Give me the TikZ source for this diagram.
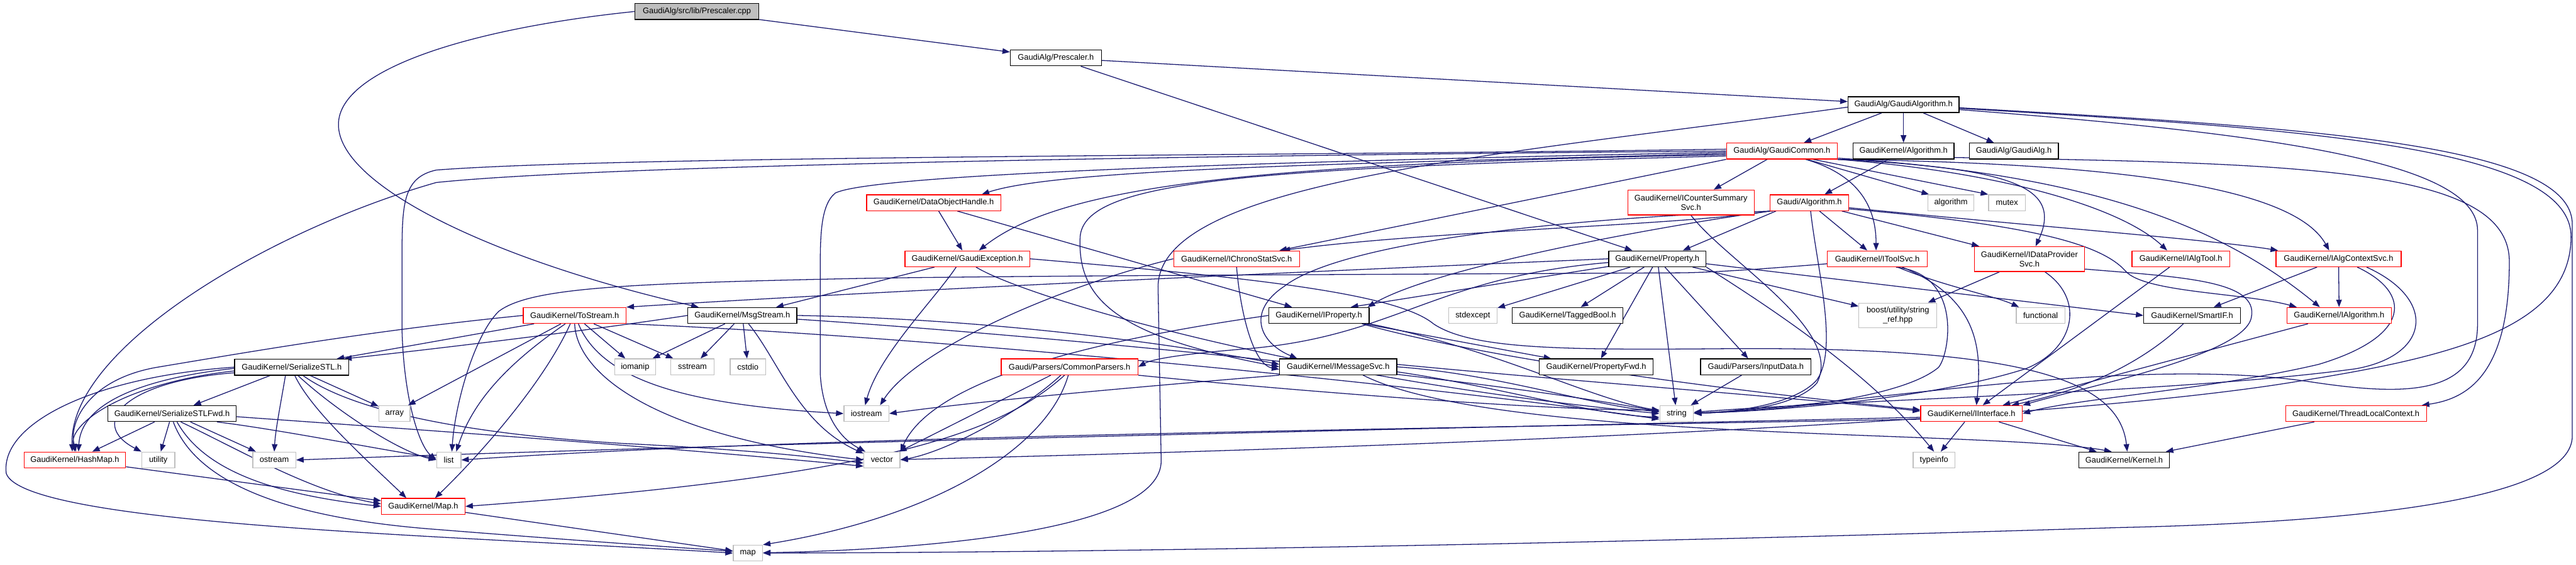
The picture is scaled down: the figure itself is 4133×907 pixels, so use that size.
\documentclass[tikz,border=0pt]{standalone}
\usepackage{fontspec}
\setmainfont{Liberation Sans}
\usetikzlibrary{arrows.meta}
\definecolor{edgec}{HTML}{191970}
\definecolor{grayb}{HTML}{BFBFBF}
\definecolor{redb}{HTML}{FF0000}
\newcommand{\nfont}{\fontsize{13}{15}\selectfont}
\pgfdeclarelayer{bgzero}
\pgfdeclarelayer{background}
\pgfsetlayers{bgzero,background,main}
\begin{document}
\begin{tikzpicture}[x=1pt,y=-1pt,
  nd/.style={draw=black,line width=1.3pt,fill=white,inner sep=0pt,minimum height=25.5pt,font=\nfont,align=center},
  rd/.style={nd,draw=redb},
  gy/.style={nd,draw=grayb},
  edg/.style={draw=edgec,line width=1.3pt,-{Triangle[length=12pt,width=9pt]}},
]
\begin{pgfonlayer}{bgzero}
\fill[white] (0,0) rectangle (4133,907);
\end{pgfonlayer}
\useasboundingbox (0,0) rectangle (4133,907);

% ---------------- nodes ----------------
\node[nd,fill=grayb,minimum width=199pt] (cpp) at (1118,18.5) {GaudiAlg/src/lib/Prescaler.cpp};
\node[nd,minimum width=146pt] (presh) at (1694,93) {GaudiAlg/Prescaler.h};
\node[nd,minimum width=178pt] (galgo) at (3054,168) {GaudiAlg/GaudiAlgorithm.h};
\node[rd,minimum width=178pt] (gcommon) at (2859,242.5) {GaudiAlg/GaudiCommon.h};
\node[nd,minimum width=162pt] (gkalgo) at (3054,242.5) {GaudiKernel/Algorithm.h};
\node[nd,minimum width=143pt] (galg) at (3231,242.5) {GaudiAlg/GaudiAlg.h};
\node[rd,minimum width=215pt] (doh) at (1498,325.5) {GaudiKernel/DataObjectHandle.h};
\node[rd,minimum width=203pt,minimum height=40pt] (ics) at (2713,325) {GaudiKernel/ICounterSummary\\Svc.h};
\node[rd,minimum width=126pt] (galgorithm) at (2903,325.5) {Gaudi/Algorithm.h};
\node[gy,minimum width=74pt] (algorithm) at (3130,325.5) {algorithm};
\node[gy,minimum width=59pt] (mutex) at (3220,325.5) {mutex};
\node[rd,minimum width=200pt] (gexc) at (1552,415.5) {GaudiKernel/GaudiException.h};
\node[rd,minimum width=202pt] (ichrono) at (1984,415.5) {GaudiKernel/IChronoStatSvc.h};
\node[nd,minimum width=156pt] (prop) at (2659,415.5) {GaudiKernel/Property.h};
\node[rd,minimum width=160pt] (itool) at (3012,415.5) {GaudiKernel/IToolSvc.h};
\node[rd,minimum width=177pt,minimum height=40pt] (idp) at (3256,416) {GaudiKernel/IDataProvider\\Svc.h};
\node[rd,minimum width=157pt] (ialgtool) at (3499,415.5) {GaudiKernel/IAlgTool.h};
\node[rd,minimum width=201pt] (iactx) at (3752,415.5) {GaudiKernel/IAlgContextSvc.h};
\node[rd,minimum width=165pt] (tostream) at (922,506.5) {GaudiKernel/ToStream.h};
\node[nd,minimum width=175pt] (msgs) at (1191,506.5) {GaudiKernel/MsgStream.h};
\node[nd,minimum width=161pt] (iprop) at (2116,506.5) {GaudiKernel/IProperty.h};
\node[gy,minimum width=78pt] (stdexcept) at (2363,506.5) {stdexcept};
\node[nd,minimum width=177pt] (tagged) at (2515,506.5) {GaudiKernel/TaggedBool.h};
\node[gy,minimum width=125pt,minimum height=40pt] (boost) at (3045,506.5) {boost/utility/string\\\_ref.hpp};
\node[gy,minimum width=78pt] (functional) at (3274,506.5) {functional};
\node[nd,minimum width=155pt] (smartif) at (3517,506.5) {GaudiKernel/SmartIF.h};
\node[rd,minimum width=167pt] (ialgo) at (3753,506.5) {GaudiKernel/IAlgorithm.h};
\node[nd,minimum width=183pt] (sstl) at (468,589.5) {GaudiKernel/SerializeSTL.h};
\node[gy,minimum width=66pt] (iomanip) at (1019,589) {iomanip};
\node[gy,minimum width=70pt] (sstream) at (1111,589) {sstream};
\node[gy,minimum width=57pt] (cstdio) at (1200,589) {cstdio};
\node[nd,minimum width=188pt] (imsg) at (2147,589) {GaudiKernel/IMessageSvc.h};
\node[nd,minimum width=183pt] (propfwd) at (2561,589) {GaudiKernel/PropertyFwd.h};
\node[nd,minimum width=177pt] (inputdata) at (2817,589) {Gaudi/Parsers/InputData.h};
\node[rd,minimum width=219pt] (cparsers) at (1716,589) {Gaudi/Parsers/CommonParsers.h};
\node[gy,minimum width=50pt] (array) at (633,664) {array};
\node[nd,minimum width=206pt] (sstlfwd) at (276,664) {GaudiKernel/SerializeSTLFwd.h};
\node[gy,minimum width=72pt] (iostream) at (1390,664) {iostream};
\node[gy,minimum width=54pt] (string) at (2690,664) {string};
\node[rd,minimum width=163pt] (iinterface) at (3163,664) {GaudiKernel/IInterface.h};
\node[rd,minimum width=226pt] (tlc) at (3780,664) {GaudiKernel/ThreadLocalContext.h};
\node[rd,minimum width=163pt] (hashmap) at (120,738.5) {GaudiKernel/HashMap.h};
\node[gy,minimum width=53pt] (utility) at (254,738.5) {utility};
\node[gy,minimum width=69pt] (ostream) at (440,738.5) {ostream};
\node[gy,minimum width=39pt] (list) at (720,738.5) {list};
\node[gy,minimum width=58pt] (vector) at (1415,738.5) {vector};
\node[gy,minimum width=67pt] (typeinfo) at (3103,738.5) {typeinfo};
\node[nd,minimum width=145pt] (kernel) at (3408,738.5) {GaudiKernel/Kernel.h};
\node[rd,minimum width=134pt] (maph) at (679,813) {GaudiKernel/Map.h};
\node[gy,minimum width=47pt] (map) at (1200,888) {map};

% ---------------- edges ----------------
\begin{pgfonlayer}{background}
% top
\draw[edg] (cpp) -- (presh);
\draw[edg] (cpp.west) .. controls (760,45) and (543,110) .. (543,200) .. controls (543,300) and (800,420) .. ([xshift=18pt]msgs.north west);
\draw[edg] (presh) -- (galgo);
\draw[edg] (presh) -- (prop);
\draw[edg] (galgo) -- (gcommon);
\draw[edg] (galgo) -- (gkalgo);
\draw[edg] (galgo) -- (galg);
% GaudiAlgorithm long routes
\draw[edg] ([yshift=-5pt]galgo.east) .. controls (3700,205) and (4127,230) .. (4127,360) -- (4127,700) .. controls (4127,800) and (3800,838) .. (3400,847) .. controls (2600,872) and (1800,887) .. (map);
\draw[edg] ([yshift=-8pt]galgo.east) .. controls (3650,215) and (3975,260) .. (3975,370) -- (3975,520) .. controls (3975,640) and (3850,635) .. (3700,612) .. controls (3400,570) and (2950,655) .. (string);
\draw[edg] ([yshift=-6pt]galgo.east) .. controls (3700,207) and (4125,235) .. (4125,380) .. controls (4125,520) and (3950,570) .. (3700,610) .. controls (3300,680) and (2200,720) .. (vector);
\draw[edg] ([yshift=-4pt]galgo.west) .. controls (2400,250) and (1860,290) .. (1858,460) -- (1863,740) .. controls (1863,850) and (1500,882) .. (map);
% GaudiKernel/Algorithm.h
\draw[edg] (gkalgo) -- (galgorithm);
\draw[edg] ([yshift=3pt]gkalgo.south east) .. controls (3700,262) and (4026,270) .. (4026,420) .. controls (4026,600) and (3960,640) .. ([xshift=-8pt]tlc.north east);
% GaudiCommon.h
\draw[edg] (gcommon.west) .. controls (2100,248) and (1000,262) .. (700,293) .. controls (430,370) and (110,560) .. ([xshift=-4pt]hashmap.north);
\draw[edg] ([yshift=3pt]gcommon.west) .. controls (2100,250) and (1000,250) .. (700,273) .. controls (645,285) and (645,330) .. (645,420) -- (645,530) .. controls (648,640) and (672,715) .. (list.west);
\draw[edg] ([yshift=-2pt]gcommon.west) .. controls (2000,260) and (1400,280) .. (1340,310) .. controls (1316,330) and (1316,380) .. (1316,440) -- (1316,600) .. controls (1320,670) and (1350,705) .. ([xshift=3pt]vector.north west);
\draw[edg] ([yshift=-4pt]gcommon.west) .. controls (2200,262) and (1700,270) .. ([xshift=-31pt]doh.north east);
\draw[edg] ([yshift=-6pt]gcommon.west) .. controls (2000,262) and (1700,300) .. ([xshift=-82pt]gexc.north east);
\draw[edg] ([yshift=-8pt]gcommon.west) .. controls (2000,270) and (1740,290) .. (1733,380) .. controls (1728,480) and (1790,540) .. (imsg.west);
\draw[edg] (gcommon.south west) -- ([xshift=-33pt]ichrono.north east);
\draw[edg] (gcommon) -- (ics);
\draw[edg] ([xshift=40pt]gcommon.south) -- ([xshift=-35pt]algorithm.north);
\draw[edg] ([xshift=50pt]gcommon.south) -- (mutex.north west);
\draw[edg] ([xshift=38pt]gcommon.south) .. controls (2980,280) and (3010,330) .. ([xshift=-2pt]itool.north);
\draw[edg] (gcommon.south east) .. controls (3230,270) and (3310,300) .. ([xshift=10pt]idp.north);
\draw[edg] (gcommon.south east) .. controls (3400,262) and (3680,300) .. ([xshift=-15pt]iactx.north);
\draw[edg] (gcommon.south east) .. controls (3200,275) and (3400,330) .. ([xshift=-22pt]ialgtool.north);
\draw[edg] ([yshift=2pt]gcommon.south east) .. controls (3350,280) and (3560,360) .. ([xshift=-31pt]ialgo.north);
% Gaudi/Algorithm.h
\draw[edg] (galgorithm) -- (itool);
\draw[edg] (galgorithm) -- (idp);
\draw[edg] ([xshift=2pt]galgorithm.south) .. controls (2915,430) and (2950,560) .. (2915,610) .. controls (2880,650) and (2780,662) .. (string);
\draw[edg] ([xshift=10pt]galgorithm.south west) -- ([xshift=41pt]prop.north);
\draw[edg] (galgorithm.south west) .. controls (2700,362) and (2300,370) .. ([xshift=-28pt]ichrono.north east);
\draw[edg] ([yshift=-8pt]galgorithm.east) .. controls (3250,362) and (3550,385) .. ([xshift=4pt]iactx.north west);
\draw[edg] ([yshift=-10pt]galgorithm.east) .. controls (3250,360) and (3370,390) .. (3410,435) .. controls (3440,470) and (3600,470) .. ([xshift=-68pt]ialgo.north);
\draw[edg] (galgorithm.south west) .. controls (2650,365) and (2300,430) .. ([xshift=-3pt]iprop.north east);
\draw[edg] ([xshift=5pt]galgorithm.south west) .. controls (2500,350) and (2150,390) .. (2060,460) .. controls (2000,500) and (2020,550) .. ([xshift=29pt]imsg.north west);
% Property.h
\draw[edg] (prop.west) .. controls (2000,440) and (1400,468) .. (tostream.north east);
\draw[edg] (prop) -- (stdexcept);
\draw[edg] (prop) -- (tagged);
\draw[edg] (prop) -- (propfwd);
\draw[edg] (prop) -- (string);
\draw[edg] (prop) -- (inputdata);
\draw[edg] (prop) -- (boost);
\draw[edg] (prop.south east) .. controls (2850,500) and (3000,600) .. (typeinfo.north);
\draw[edg] ([yshift=-6pt]prop.west) .. controls (2300,445) and (2240,540) .. (2000,560) .. controls (1900,568) and (1850,576) .. (cparsers.east);
\draw[edg] ([yshift=-8pt]prop.east) -- (smartif.west);
\draw[edg] (prop) -- ([xshift=51pt]iprop.north);
% ICounterSummarySvc.h
\draw[edg] (ics.south) .. controls (2770,420) and (2960,530) .. (2915,615) .. controls (2880,655) and (2780,662) .. (string);
% IToolSvc.h
\draw[edg] (itool) .. controls (3120,460) and (3200,475) .. ([xshift=5pt]functional.north west);
\draw[edg] ([xshift=30pt]itool.south) .. controls (3150,440) and (3128,570) .. (3110,590) .. controls (3050,640) and (2850,660) .. (string);
\draw[edg] ([xshift=40pt]itool.south) .. controls (3175,480) and (3180,560) .. ([xshift=8pt]iinterface.north);
\draw[edg] ([yshift=-8pt]itool.west) .. controls (2850,430) and (2760,437) .. (2700,438) -- (2100,441) .. controls (1700,443) and (1500,445) .. (1380,447) .. controls (1000,455) and (850,462) .. (800,500) .. controls (760,540) and (730,650) .. ([xshift=5pt]list.north);
% IDataProviderSvc.h
\draw[edg] (idp) -- (boost);
\draw[edg] ([xshift=25pt]idp.south) .. controls (3345,480) and (3330,560) .. (3250,592) .. controls (3100,640) and (2850,660) .. (string);
\draw[edg] ([yshift=-16pt]idp.east) .. controls (3500,445) and (3625,450) .. (3612,510) .. controls (3600,570) and (3350,620) .. (iinterface.north east);
% IAlgTool.h
\draw[edg] (ialgtool) -- (iinterface);
% IAlgContextSvc.h
\draw[edg] (iactx) -- (ialgo);
\draw[edg] (iactx) -- (smartif);
\draw[edg] ([xshift=30pt]iactx.south) .. controls (3870,470) and (3870,540) .. (3720,585) .. controls (3550,625) and (3330,640) .. (iinterface.east);
\draw[edg] ([xshift=45pt]iactx.south) .. controls (3910,480) and (3900,570) .. (3780,592) .. controls (3500,630) and (3000,640) .. (string);
% IAlgorithm, SmartIF, ThreadLocalContext
\draw[edg] (ialgo) -- (iinterface);
\draw[edg] (smartif) .. controls (3440,580) and (3350,625) .. (iinterface);
\draw[edg] (tlc) -- (kernel);
% IInterface.h
\draw[edg] (iinterface) -- (typeinfo);
\draw[edg] (iinterface) -- (kernel);
\draw[edg] ([yshift=-6pt]iinterface.west) .. controls (2200,690) and (1200,712) .. (ostream.east);
\draw[edg] ([yshift=-9pt]iinterface.west) .. controls (2300,688) and (1300,700) .. (list.east);
% InputData.h
\draw[edg] (inputdata) -- (string);
% IMessageSvc.h
\draw[edg] (imsg.east) .. controls (2400,600) and (2550,650) .. (string);
\draw[edg] ([yshift=-8pt]imsg.east) .. controls (2400,620) and (2550,665) .. ([yshift=-6pt]string.west);
\draw[edg] ([yshift=4pt]imsg.east) .. controls (2500,610) and (2900,640) .. ([yshift=4pt]iinterface.west);
\draw[edg] (imsg.south west) .. controls (1900,615) and (1600,640) .. (iostream.east);
\draw[edg] ([xshift=40pt]imsg.south) .. controls (2400,710) and (3200,690) .. ([xshift=-20pt]kernel.north);
% IProperty.h
\draw[edg] (iprop) -- (propfwd);
\draw[edg] (iprop.south east) .. controls (2400,560) and (2550,640) .. (string);
\draw[edg] ([xshift=-12pt]iprop.south east) .. controls (2400,580) and (2800,630) .. ([yshift=6pt]iinterface.west);
\draw[edg] (iprop.west) .. controls (1800,540) and (1500,600) .. (vector.north east);
% CommonParsers.h
\draw[edg] ([xshift=-30pt]cparsers.south) -- ([xshift=-2pt]vector.north east);
\draw[edg] ([xshift=-14pt]cparsers.south) .. controls (1640,660) and (1520,725) .. (vector.east);
\draw[edg] ([xshift=-8pt]cparsers.south) .. controls (1600,700) and (1400,765) .. (maph.east);
\draw[edg] ([xshift=-2pt]cparsers.south) .. controls (1680,720) and (1500,830) .. (map.north east);
\draw[edg] (cparsers.south east) .. controls (2100,630) and (2500,660) .. ([yshift=6pt]string.west);
% GaudiException.h
\draw[edg] (gexc) -- ([xshift=-34pt]msgs.north east);
\draw[edg] ([xshift=-18pt]gexc.south) .. controls (1500,480) and (1410,570) .. ([xshift=-2pt]iostream.north);
\draw[edg] ([xshift=14pt]gexc.south) .. controls (1650,480) and (2100,610) .. (string.west);
\draw[edg] (gexc.east) .. controls (2000,445) and (2240,470) .. (2300,520) .. controls (2360,560) and (2500,562) .. (2750,560) .. controls (3250,555) and (3400,610) .. ([xshift=5pt]kernel.north);
% DataObjectHandle.h
\draw[edg] (doh) -- (gexc);
\draw[edg] ([xshift=38pt]doh.south) -- ([xshift=-43pt]iprop.north);
% IChronoStatSvc.h
\draw[edg] (ichrono.west) .. controls (1700,460) and (1470,560) .. ([xshift=22pt]iostream.north);
\draw[edg] (ichrono.south) .. controls (1990,500) and (2010,585) .. ([yshift=-4pt]imsg.west);
% MsgStream.h
\draw[edg] (msgs) -- (iomanip);
\draw[edg] (msgs) -- (sstream);
\draw[edg] (msgs) -- (cstdio);
\draw[edg] (msgs.west) .. controls (950,530) and (700,560) .. ([xshift=-8pt]sstl.north east);
\draw[edg] ([xshift=10pt]msgs.south) .. controls (1250,580) and (1280,680) .. ([yshift=-3pt]vector.north west);
\draw[edg] (msgs.east) .. controls (1600,512) and (1900,555) .. ([yshift=4pt]imsg.west);
\draw[edg] ([yshift=-6pt]msgs.east) .. controls (1700,540) and (2400,610) .. ([yshift=3pt]string.west);
% ToStream.h
\draw[edg] (tostream.west) .. controls (600,530) and (400,565) .. (250,590) .. controls (140,610) and (110,680) .. ([xshift=2pt]hashmap.north);
\draw[edg] ([xshift=18pt]tostream.south west) -- ([xshift=-20pt]sstl.north east);
\draw[edg] ([xshift=-22pt]tostream.south) -- ([xshift=-4pt]array.north east);
\draw[edg] ([xshift=-15pt]tostream.south) .. controls (820,580) and (760,640) .. ([xshift=12pt]list.north);
\draw[edg] ([xshift=-7pt]tostream.south) .. controls (870,620) and (760,740) .. ([xshift=19pt]maph.north);
\draw[edg] (tostream.south) .. controls (925,600) and (1050,700) .. (vector.west);
\draw[edg] ([xshift=6pt]tostream.south) .. controls (965,610) and (1100,650) .. (iostream.west);
\draw[edg] (tostream) -- (iomanip);
\draw[edg] (tostream) -- (sstream);
\draw[edg] (tostream.south east) .. controls (1500,540) and (2300,620) .. ([yshift=-9pt]string.west);
% SerializeSTL.h
\draw[edg] (sstl) -- (sstlfwd);
\draw[edg] (sstl) -- (array);
\draw[edg] ([xshift=-10pt]sstl.south) .. controls (450,650) and (442,690) .. (ostream.north);
\draw[edg] ([yshift=-2pt]sstl.west) .. controls (250,605) and (130,640) .. ([xshift=6pt]hashmap.north);
\draw[edg] ([yshift=-6pt]sstl.west) .. controls (200,615) and (110,680) .. (hashmap.north);
\draw[edg] ([yshift=-9pt]sstl.west) .. controls (200,612) and (140,680) .. (utility.north west);
\draw[edg] ([xshift=5pt]sstl.south) .. controls (500,660) and (590,740) .. ([xshift=-27pt]maph.north);
\draw[edg] ([xshift=10pt]sstl.south) .. controls (540,660) and (640,725) .. (list.west);
\draw[edg] ([xshift=18pt]sstl.south) .. controls (580,670) and (800,700) .. (1000,712) .. controls (1200,722) and (1300,733) .. ([yshift=-5pt]vector.west);
\draw[edg] (sstl.west) .. controls (150,605) and (0,680) .. (10,760) .. controls (30,820) and (400,845) .. (700,862) .. controls (900,873) and (1100,883) .. (map.west);
% SerializeSTLFwd.h
\draw[edg] (sstlfwd) -- (hashmap);
\draw[edg] (sstlfwd) -- (utility);
\draw[edg] (sstlfwd) -- (ostream);
\draw[edg] ([xshift=8pt]sstlfwd.south) .. controls (330,760) and (450,795) .. (maph.west);
\draw[edg] ([xshift=14pt]sstlfwd.south) .. controls (380,720) and (500,790) .. ([yshift=4pt]maph.west);
\draw[edg] ([xshift=2pt]sstlfwd.south) .. controls (320,790) and (500,835) .. (700,850) .. controls (900,866) and (1100,880) .. ([yshift=3pt]map.west);
\draw[edg] ([xshift=72pt]sstlfwd.south) .. controls (450,690) and (600,720) .. ([yshift=3pt]list.west);
\draw[edg] ([yshift=-5pt]sstlfwd.east) .. controls (600,685) and (1000,712) .. ([yshift=-10pt]vector.west);
% HashMap / Map
\draw[edg] (hashmap) -- (maph);
\draw[edg] (maph) -- (map);
\end{pgfonlayer}
\end{tikzpicture}
\end{document}
